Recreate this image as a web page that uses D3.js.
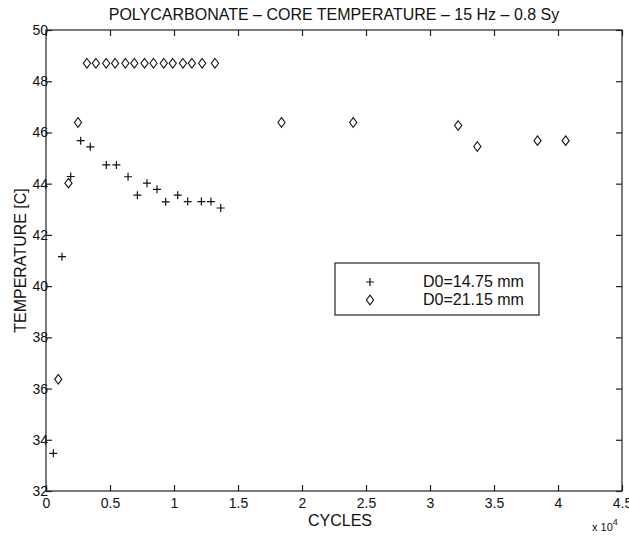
<!DOCTYPE html>
<html>
  <head>
    <meta charset="utf-8">
    <title>Polycarbonate core temperature</title>
    <script src="https://d3js.org/d3.v7.min.js" charset="utf-8"></script>
    <style>
      body { margin: 0; background: #fff; }
      text { font-family: "Liberation Sans", Arial, sans-serif; fill: #111; }
    </style>
  </head>
  <body>
    <script>
      // data
      var plusCycles = [570, 1250, 1930, 2710, 3460, 4710, 5500, 6410, 7140, 7890, 8670, 9350, 10290, 11070, 12140, 12890, 13650];
      var plusTemp = [33.47, 41.15, 44.28, 45.68, 45.44, 44.73, 44.73, 44.27, 43.55, 44.02, 43.78, 43.29, 43.55, 43.30, 43.30, 43.30, 43.05];

      var diamondCycles = [960, 1750, 2500, 3200, 3900, 4700, 5400, 6200, 6900, 7700, 8400, 9200, 9900, 10700, 11400, 12200, 13200, 18400, 24000, 32200, 33700, 38400, 40600];
      var diamondTemp = [36.36, 44.02, 46.39, 48.7, 48.7, 48.7, 48.7, 48.7, 48.7, 48.7, 48.7, 48.7, 48.7, 48.7, 48.7, 48.7, 48.7, 46.39, 46.39, 46.27, 45.45, 45.68, 45.68];

      var xTicks = [0, 5000, 10000, 15000, 20000, 25000, 30000, 35000, 40000, 45000];
      var xTickLabels = ["0", "0.5", "1", "1.5", "2", "2.5", "3", "3.5", "4", "4.5"];
      var yTicks = [32, 34, 36, 38, 40, 42, 44, 46, 48, 50];
      var legendLabels = ["D0=14.75 mm", "D0=21.15 mm"];

      var width = 629;
      var height = 536;
      var margin = {top: 30, right: 7, bottom: 45, left: 46};
      var innerW = width - margin.left - margin.right;
      var innerH = height - margin.top - margin.bottom;

      var svg = d3.select("body")
          .append("svg")
          .attr("width", width)
          .attr("height", height);

      var g = svg.append("g")
          .attr("transform", "translate(" + margin.left + "," + margin.top + ")");

      var x = d3.scaleLinear().domain([0, 45000]).range([0, innerW]);
      var y = d3.scaleLinear().domain([32, 50]).range([innerH, 0]);

      // box
      g.append("rect")
        .attr("width", innerW)
        .attr("height", innerH)
        .attr("fill", "none")
        .attr("stroke", "#222")
        .attr("stroke-width", 1.2);

      // ticks inward on all four sides
      var xAxis = g.append("g")
        .attr("transform", "translate(0," + innerH + ")")
        .call(d3.axisBottom(x).tickValues(xTicks).tickSizeInner(-6).tickSizeOuter(0)
          .tickPadding(7).tickFormat(function(d, i) { return xTickLabels[i]; }));
      var xTop = g.append("g")
        .call(d3.axisTop(x).tickValues(xTicks).tickSizeInner(-6).tickSizeOuter(0).tickFormat(""));

      var yAxis = g.append("g")
        .call(d3.axisLeft(y).tickValues(yTicks).tickSizeInner(-6).tickSizeOuter(0)
          .tickPadding(2).tickFormat(d3.format("d")));
      var yRight = g.append("g")
        .attr("transform", "translate(" + innerW + ",0)")
        .call(d3.axisRight(y).tickValues(yTicks).tickSizeInner(-6).tickSizeOuter(0).tickFormat(""));

      [xAxis, xTop, yAxis, yRight].forEach(function(a) {
        a.select(".domain").remove();
        a.selectAll(".tick line").attr("stroke", "#222").attr("stroke-width", 1.2);
        a.selectAll("text").attr("font-size", 14).attr("fill", "#111")
          .attr("font-family", "'Liberation Sans', Arial, sans-serif");
      });
      yAxis.selectAll("text").attr("dx", "4px");

      // markers
      function plusPath(cx, cy) {
        var s = 4;
        return "M" + (cx - s) + "," + cy + "H" + (cx + s) + "M" + cx + "," + (cy - s) + "V" + (cy + s);
      }
      function diamondPath(cx, cy) {
        var w = 3.6, h = 4.8;
        return "M" + cx + "," + (cy - h) + "L" + (cx + w) + "," + cy + "L" + cx + "," + (cy + h) + "L" + (cx - w) + "," + cy + "Z";
      }

      g.append("g").selectAll("path")
        .data(d3.range(plusCycles.length))
        .enter()
        .append("path")
        .attr("d", function(i) { return plusPath(x(plusCycles[i]), y(plusTemp[i])); })
        .attr("stroke", "#111")
        .attr("stroke-width", 1.2)
        .attr("fill", "none");

      g.append("g").selectAll("path")
        .data(d3.range(diamondCycles.length))
        .enter()
        .append("path")
        .attr("d", function(i) { return diamondPath(x(diamondCycles[i]), y(diamondTemp[i])); })
        .attr("stroke", "#111")
        .attr("stroke-width", 1.1)
        .attr("fill", "none");

      // title and labels
      svg.append("text")
        .attr("x", margin.left + innerW / 2)
        .attr("y", 20)
        .attr("text-anchor", "middle")
        .attr("font-size", 16)
        .text("POLYCARBONATE \u2013 CORE TEMPERATURE \u2013 15 Hz \u2013 0.8 Sy");

      svg.append("text")
        .attr("x", 340)
        .attr("y", 526)
        .attr("text-anchor", "middle")
        .attr("font-size", 16)
        .text("CYCLES");

      svg.append("text")
        .attr("transform", "translate(26," + (margin.top + innerH / 2) + ") rotate(-90)")
        .attr("text-anchor", "middle")
        .attr("font-size", 16)
        .text("TEMPERATURE [C]");

      var mult = svg.append("text")
        .attr("x", 592)
        .attr("y", 531)
        .attr("font-size", 11);
      mult.append("tspan").text("x 10");
      mult.append("tspan").attr("dy", -6).attr("font-size", 9).text("4");

      // legend
      var lg = svg.append("g").attr("transform", "translate(335,263)");
      lg.append("rect")
        .attr("width", 204)
        .attr("height", 52)
        .attr("fill", "#fff")
        .attr("stroke", "#222")
        .attr("stroke-width", 1.2);
      lg.append("path").attr("d", plusPath(35, 19)).attr("stroke", "#111").attr("stroke-width", 1.2).attr("fill", "none");
      lg.append("path").attr("d", diamondPath(35, 37)).attr("stroke", "#111").attr("stroke-width", 1.1).attr("fill", "none");
      lg.selectAll(".lbl")
        .data(legendLabels)
        .enter()
        .append("text")
        .attr("x", 88)
        .attr("y", function(d, i) { return 24 + i * 18; })
        .attr("font-size", 16)
        .text(function(d) { return d; });
    </script>
  </body>
</html>
